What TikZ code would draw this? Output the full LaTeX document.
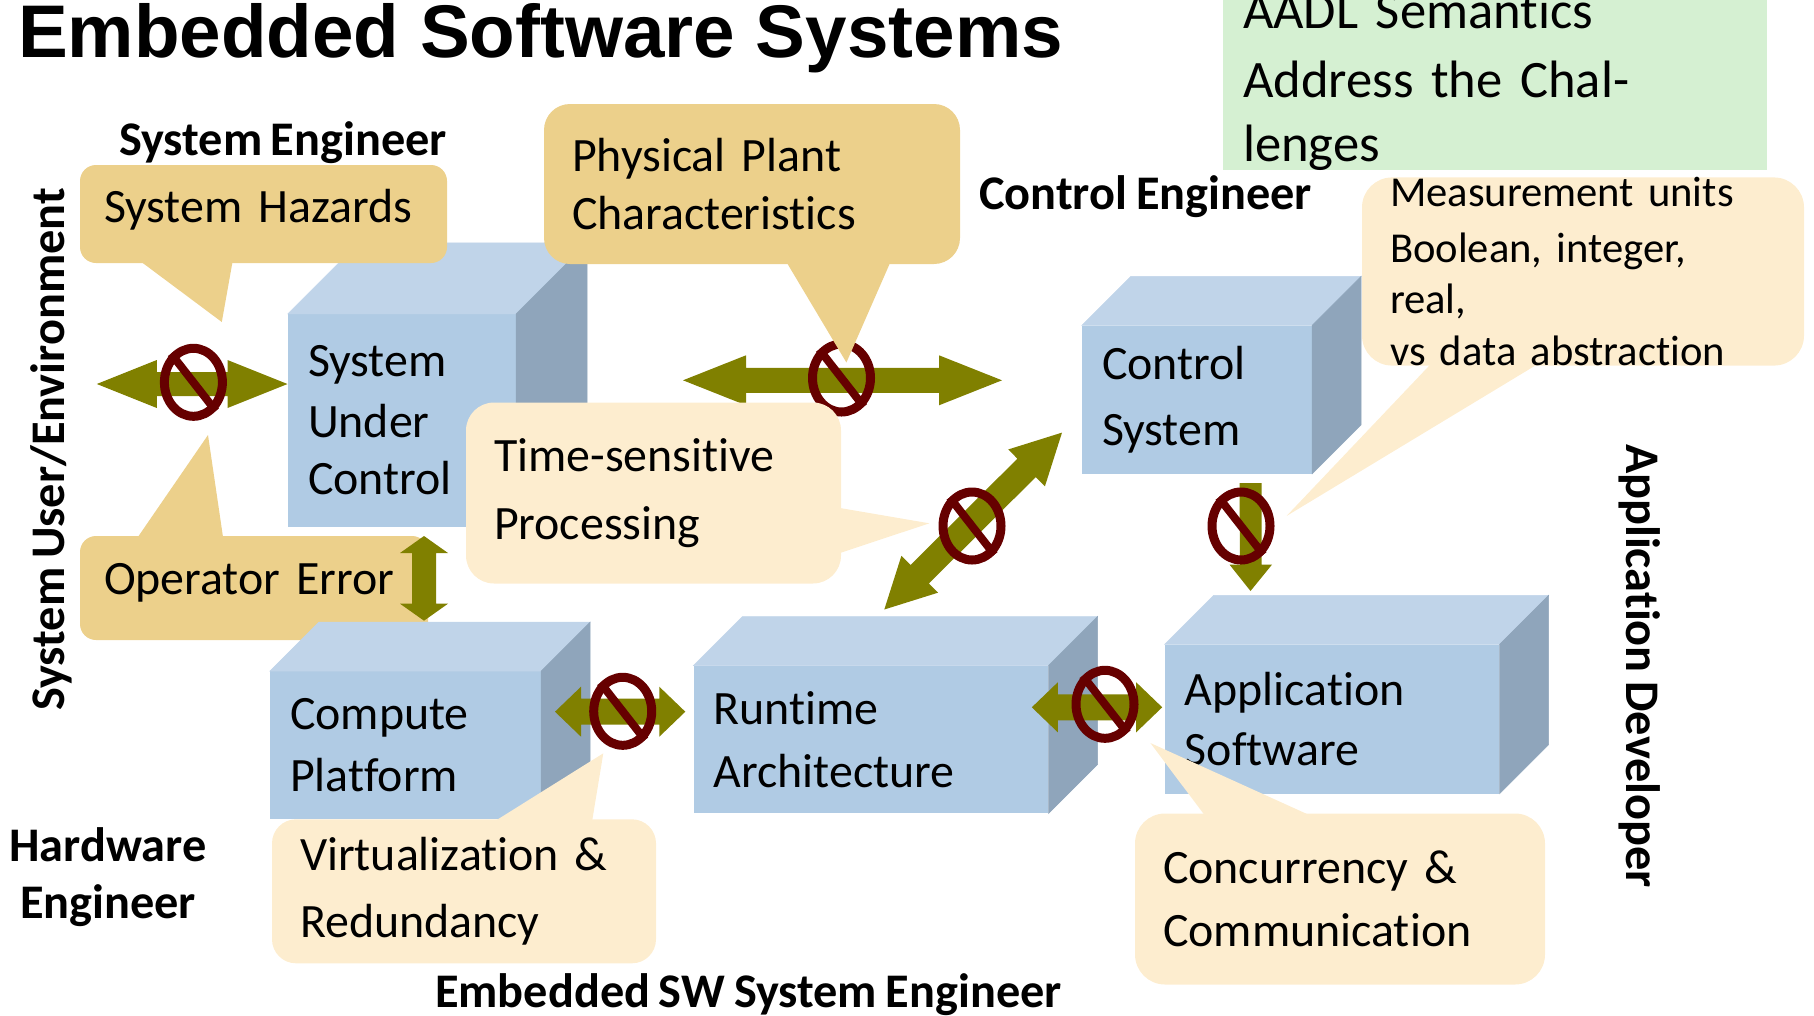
\documentclass[tikz,border=0pt]{standalone}
\usepackage{fontspec}
\setmainfont[Ligatures=NoCommon,WordSpace=0.8]{Carlito}
\newfontfamily\titlefont{Liberation Sans}
\usetikzlibrary{calc,shapes.geometric}
\definecolor{frontc}{HTML}{B0CBE4}
\definecolor{topc}{HTML}{C0D4E9}
\definecolor{sidec}{HTML}{8FA5BB}
\definecolor{tanc}{HTML}{ECD08B}
\definecolor{creamc}{HTML}{FDEDCF}
\definecolor{olivec}{HTML}{808000}
\definecolor{maroonc}{HTML}{660000}
\definecolor{greenc}{HTML}{D5F0D2}
\tikzset{
  body/.style={font=\fontsize{47.9}{57.5}\selectfont},
  small/.style={font=\fontsize{42.6}{51.5}\selectfont},
  role/.style={font=\fontsize{48.3}{57}\selectfont\bfseries,inner sep=0pt},
  facebox/.style={fill=frontc,inner ysep=0pt,align=left,body},
  callout/.style={rounded corners=#1,inner ysep=0pt,align=left,body},
  noring/.style={ellipse,draw=maroonc,line width=9pt,inner sep=0pt,minimum width=58pt,minimum height=68pt},
  noslash/.style={draw=maroonc,line width=8pt},
  blockfill/.style={fill=olivec}
}
\newcommand{\dn}[1]{\vspace*{#1pt}}
% center x, center y, width, height, depth, name, text
\newcommand{\cubeshape}[7]{%
  \node[facebox,minimum width=#3pt,minimum height=#4pt,text width=#3pt-40pt,inner xsep=20pt] (#6) at (#1,#2) {#7};
  \filldraw[topc,line width=.5pt] (#6.north west) -- ($(#6.north west)+(#5,-#5)$) -- ($(#6.north east)+(#5,-#5)$) -- (#6.north east) -- cycle;
  \filldraw[sidec,line width=.5pt] (#6.north east) -- ($(#6.north east)+(#5,-#5)$) -- ($(#6.south east)+(#5,-#5)$) -- (#6.south east) -- cycle;
}
% from, to, half shaft, half head, head length
\newcommand{\twohead}[5]{%
  \fill[blockfill] (#1)
    -- ($(#1)!#5pt!(#2)!#4pt!90:(#2)$) -- ($(#1)!#5pt!(#2)!#3pt!90:(#2)$)
    -- ($(#2)!#5pt!(#1)!#3pt!-90:(#1)$) -- ($(#2)!#5pt!(#1)!#4pt!-90:(#1)$)
    -- (#2)
    -- ($(#2)!#5pt!(#1)!#4pt!90:(#1)$) -- ($(#2)!#5pt!(#1)!#3pt!90:(#1)$)
    -- ($(#1)!#5pt!(#2)!#3pt!-90:(#2)$) -- ($(#1)!#5pt!(#2)!#4pt!-90:(#2)$)
    -- cycle;
}
\newcommand{\nosign}[2]{%
  \node[noring] (#1) at (#2) {};
  \draw[noslash] (#1.128) -- (#1.-52);
}
\begin{document}
\begin{tikzpicture}[x=1pt,y=-1pt]
\useasboundingbox (0,0) rectangle (1814,1015);
\node[font=\fontsize{74.6}{80}\selectfont\titlefont\bfseries,anchor=base west,inner sep=0pt] (title) at (18,57) {Embedded Software Systems};
\node[fill=greenc,minimum width=544pt,minimum height=148pt,text width=504pt,inner xsep=20pt,inner ysep=0pt,align=left,font=\fontsize{52.6}{63.5}\selectfont] (aadl) at (1495,81) {\dn{6}AADL Semantics\\Address the Challenges};

% System under control
\cubeshape{402}{420.5}{228}{213}{71}{suc}{\dn{3}System\\Under\\Control}
% System hazards
\fill[tanc] (141.4,262) -- (221.8,322) -- (232.5,262) -- cycle;
\node[fill=tanc,callout=16pt,minimum width=367pt,minimum height=98pt,text width=319pt,inner xsep=24pt] (hazards) at (263.5,214) {\dn{9}System Hazards};
% Operator error
\fill[tanc] (137.9,537) -- (208,435) -- (223,537) -- cycle;
\node[fill=tanc,callout=16pt,minimum width=348pt,minimum height=104pt,text width=300pt,inner xsep=24pt] (operr) at (254,588) {\dn{11}Operator Error};
% Arrow 1
\coordinate (a1l) at (96.8,384); \coordinate (a1r) at (287.5,384);
\twohead{a1l}{a1r}{12}{24}{60}
\nosign{n1}{193.4,382.3}
% Arrow 2
\coordinate (a2l) at (683,380.3); \coordinate (a2r) at (1002,380.3);
\twohead{a2l}{a2r}{12.5}{25}{63}
\nosign{n2}{841.5,378}
% Physical plant
\fill[tanc] (787,263) -- (846.4,362.5) -- (890,263) -- cycle;
\node[fill=tanc,callout=26pt,minimum width=416pt,minimum height=160pt,text width=360pt,inner xsep=28pt] (plant) at (752,184) {\dn{1}Physical Plant\\Characteristics};
% Time-sensitive
\fill[creamc] (840,508) -- (929.4,523.3) -- (840,553) -- cycle;
\node[fill=creamc,callout=28pt,minimum width=375pt,minimum height=181pt,text width=319pt,inner xsep=28pt] (time) at (653.5,493) {\dn{11}Time-sensitive\\Processing};
% Diagonal arrow
\coordinate (a3t) at (1062,432.6); \coordinate (a3b) at (884.3,609.5);
\twohead{a3t}{a3b}{13}{26}{50}
\nosign{n3}{972,526}
% Control system
\cubeshape{1197}{399.5}{230}{148}{49}{ctrl}{\dn{9}Control\\System}
% Control -> application arrow
\coordinate (a4t) at (1250.5,483); \coordinate (a4b) at (1250.5,591);
\fill[blockfill] (a4t) ++(-11,0) -- ++(22,0) -- ++(0,81.6) -- ++(10.5,0) -- (a4b) -- ++(-21,-26.4) -- ++(10.5,0) -- cycle;
\nosign{n4}{1241,526}
% Measurement
\fill[creamc] (1434.6,360) -- (1286.5,516) -- (1544.5,360) -- cycle;
\node[fill=creamc,callout=30pt,small,minimum width=442pt,minimum height=180pt,text width=386pt,inner xsep=28pt] (units) at (1583,271.5) {\dn{4}Measurement units\\Boolean, integer, real,\\vs data abstraction};
% Compute platform
\cubeshape{405.5}{745.3}{271}{148}{49}{comp}{\dn{5}Compute\\Platform}
% Vertical arrow
\coordinate (a5t) at (424,536); \coordinate (a5b) at (424,620.7);
\twohead{a5t}{a5b}{12}{24}{17}
% Compute <-> Runtime
\coordinate (a6l) at (555,711.7); \coordinate (a6r) at (685.3,711.7);
\twohead{a6l}{a6r}{13}{25}{26}
\nosign{n6}{622.7,711.3}
% Virtualization
\fill[creamc] (496.7,820) -- (603.3,753.3) -- (592.3,820) -- cycle;
\node[fill=creamc,callout=24pt,minimum width=384pt,minimum height=144pt,text width=328pt,inner xsep=28pt] (virt) at (464,891.3) {\dn{9}Virtualization \&\\Redundancy};
% Runtime
\cubeshape{871}{739.5}{354.6}{147.6}{49}{rt}{\dn{5}Runtime\\Architecture}
% Application
\cubeshape{1332.2}{719}{334.5}{149}{49}{app}{\dn{2}Application\\Software}
% Runtime <-> Application
\coordinate (a7l) at (1031.8,707.3); \coordinate (a7r) at (1162.2,707.3);
\twohead{a7l}{a7r}{13}{25}{26}
\nosign{n7}{1105,704.3}
% Concurrency
\fill[creamc] (1203.7,814) -- (1150.4,743) -- (1307,814) -- cycle;
\node[fill=creamc,callout=30pt,minimum width=410pt,minimum height=171pt,text width=354pt,inner xsep=28pt] (conc) at (1340,899) {\dn{5}Concurrency \&\\Communication};

% Roles
\node[role,anchor=center] (r1) at (283,143) {System Engineer};
\node[role,anchor=center] (r2) at (1145.5,196.5) {Control Engineer};
\node[role,anchor=center,align=center] (r3) at (108,877.5) {Hardware\\Engineer};
\node[role,anchor=center] (r4) at (748.5,994.5) {Embedded SW System Engineer};
\node[role,anchor=center,rotate=90] (r5) at (51,449.5) {System User/Environment};
\node[role,anchor=center,rotate=-90] (r6) at (1640,666) {Application Developer};
\end{tikzpicture}
\end{document}
